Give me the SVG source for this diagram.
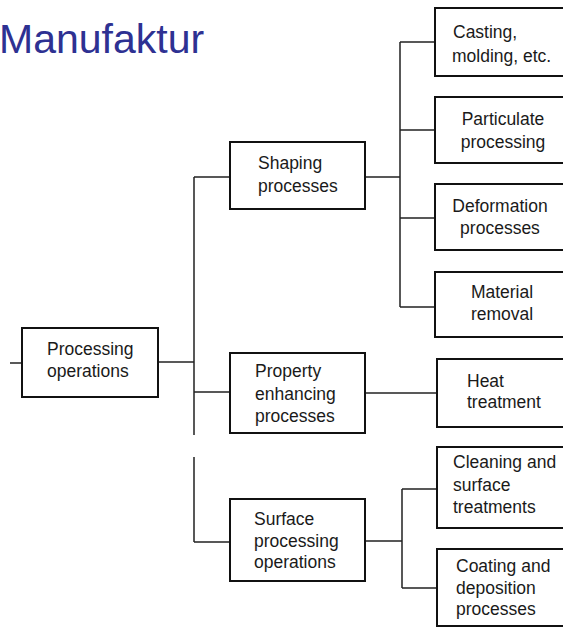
<svg xmlns="http://www.w3.org/2000/svg" width="563" height="629" viewBox="0 0 563 629">
<style>
.box{fill:#fff;stroke:#111;stroke-width:2}
.ln{fill:none;stroke:#222;stroke-width:1.5}
text{font-family:"Liberation Sans",Arial,sans-serif;font-size:17.5px;fill:#1a1a1a}
.m{text-anchor:middle}
.title{font-size:41px;fill:#2e3192}
</style>
<rect width="563" height="629" fill="#fff"/>
<text class="title" x="-1" y="53">Manufaktur</text>
<g id="connectors">
<path class="ln" d="M10 363H22"/>
<path class="ln" d="M158 362H194"/>
<path class="ln" d="M194 177V435M194 457V542"/>
<path class="ln" d="M194 177H230M194 392H230M194 542H230"/>
<path class="ln" d="M365 177H400M400 42V307M400 42H435M400 130H435M400 218H435M400 307H435"/>
<path class="ln" d="M365 393H437"/>
<path class="ln" d="M365 541H402M402 489V588M402 489H437M402 588H437"/>
</g>
<g id="processing">
<rect class="box" x="22" y="328" width="136" height="69"/>
<text x="47" y="355">Processing</text>
<text x="47" y="377">operations</text>
</g>
<g id="shaping">
<rect class="box" x="230" y="142" width="135" height="67"/>
<text x="258" y="169">Shaping</text>
<text x="258" y="192">processes</text>
</g>
<g id="property">
<rect class="box" x="230" y="353" width="135" height="80"/>
<text x="255" y="377">Property</text>
<text x="255" y="400">enhancing</text>
<text x="255" y="422">processes</text>
</g>
<g id="surface">
<rect class="box" x="230" y="499" width="135" height="82"/>
<text x="254" y="525">Surface</text>
<text x="254" y="547">processing</text>
<text x="254" y="568">operations</text>
</g>
<g id="casting">
<rect class="box" x="435" y="8" width="130" height="68"/>
<text x="453" y="38">Casting,</text>
<text x="452" y="62">molding, etc.</text>
</g>
<g id="particulate">
<rect class="box" x="435" y="97" width="130" height="66"/>
<text class="m" x="503" y="125">Particulate</text>
<text class="m" x="503" y="148">processing</text>
</g>
<g id="deformation">
<rect class="box" x="435" y="184" width="130" height="66"/>
<text class="m" x="500" y="212">Deformation</text>
<text class="m" x="500" y="234">processes</text>
</g>
<g id="material">
<rect class="box" x="435" y="272" width="130" height="65"/>
<text class="m" x="502" y="298">Material</text>
<text class="m" x="502" y="320">removal</text>
</g>
<g id="heat">
<rect class="box" x="437" y="359" width="128" height="68"/>
<text x="467" y="387">Heat</text>
<text x="467" y="408">treatment</text>
</g>
<g id="cleaning">
<rect class="box" x="437" y="447" width="128" height="81"/>
<text x="453" y="468">Cleaning and</text>
<text x="453" y="491">surface</text>
<text x="453" y="513">treatments</text>
</g>
<g id="coating">
<rect class="box" x="437" y="549" width="128" height="77"/>
<text x="456" y="572">Coating and</text>
<text x="456" y="594">deposition</text>
<text x="456" y="615">processes</text>
</g>
</svg>
